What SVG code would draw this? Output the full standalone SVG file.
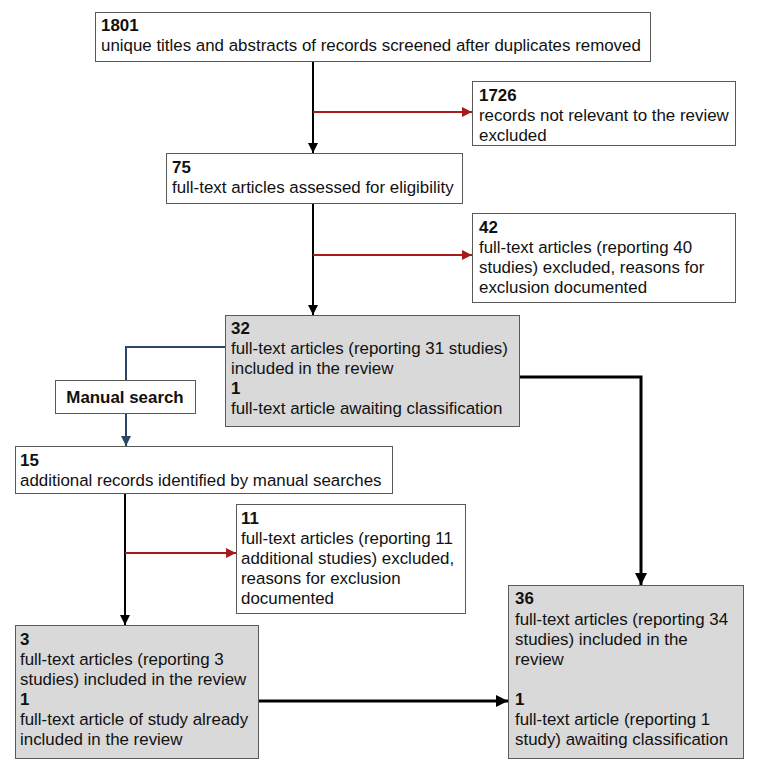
<svg xmlns="http://www.w3.org/2000/svg" width="768" height="769" viewBox="0 0 768 769">
<style>
.box{fill:#fff;stroke:#5a5a5a;stroke-width:1}
.gbox{fill:#d9d9d9;stroke:#5a5a5a;stroke-width:1}
text{font-family:"Liberation Sans",Arial,sans-serif;font-size:16.9px;fill:#111}
.b{font-weight:bold}
.blk{stroke:#000;stroke-width:2;fill:none}
.thk{stroke:#000;stroke-width:3;fill:none}
.red{stroke:#a61c1c;stroke-width:2;fill:none}
.blu{stroke:#2b4763;stroke-width:2;fill:none}
</style>
<defs>
<marker id="ab" viewBox="0 0 10 10" refX="10" refY="5" markerWidth="5" markerHeight="5" orient="auto" markerUnits="strokeWidth"><path d="M0,0L10,5L0,10z" fill="#000"/></marker>
<marker id="ak" viewBox="0 0 10 10" refX="10" refY="5" markerWidth="4" markerHeight="4" orient="auto" markerUnits="strokeWidth"><path d="M0,0L10,5L0,10z" fill="#000"/></marker>
<marker id="ar" viewBox="0 0 10 10" refX="10" refY="5" markerWidth="5" markerHeight="5" orient="auto" markerUnits="strokeWidth"><path d="M0,0L10,5L0,10z" fill="#a61c1c"/></marker>
<marker id="au" viewBox="0 0 10 10" refX="10" refY="5" markerWidth="5" markerHeight="5" orient="auto" markerUnits="strokeWidth"><path d="M0,0L10,5L0,10z" fill="#2b4763"/></marker>
</defs>
<g id="connectors">
<path class="blk" d="M313,61V153" marker-end="url(#ab)"/>
<path class="red" d="M313,112H472" marker-end="url(#ar)"/>
<path class="blk" d="M313,203V315" marker-end="url(#ab)"/>
<path class="red" d="M313,255H472" marker-end="url(#ar)"/>
<path class="blu" d="M225,347H126V446" marker-end="url(#au)"/>
<path class="blk" d="M125,493V625" marker-end="url(#ab)"/>
<path class="red" d="M125,553H236" marker-end="url(#ar)"/>
<path class="thk" d="M520,377H641V585" marker-end="url(#ak)"/>
<path class="thk" d="M258,701H508" marker-end="url(#ak)"/>
</g>
<g id="n1801"><rect class="box" x="95.5" y="12.5" width="555" height="49"/><text x="101" y="31" class="b">1801</text><text x="101" y="51">unique titles and abstracts of records screened after duplicates removed</text></g>
<g id="n1726"><rect class="box" x="472.5" y="81.5" width="263" height="64"/><text x="479" y="101" class="b">1726</text><text x="479" y="121">records not relevant to the review</text><text x="479" y="141">excluded</text></g>
<g id="n75"><rect class="box" x="166.5" y="153.5" width="296" height="50"/><text x="172" y="173" class="b">75</text><text x="172" y="193">full-text articles assessed for eligibility</text></g>
<g id="n42"><rect class="box" x="472.5" y="213.5" width="263" height="89"/><text x="479" y="233" class="b">42</text><text x="479" y="253">full-text articles (reporting 40</text><text x="479" y="273">studies) excluded, reasons for</text><text x="479" y="293">exclusion documented</text></g>
<g id="n32"><rect class="gbox" x="225.5" y="315.5" width="294" height="111"/><text x="231" y="334" class="b">32</text><text x="231" y="354">full-text articles (reporting 31 studies)</text><text x="231" y="374">included in the review</text><text x="231" y="394" class="b">1</text><text x="231" y="414">full-text article awaiting classification</text></g>
<g id="manual"><rect class="box" x="55.5" y="380.5" width="140" height="33"/><text x="125" y="403" class="b" text-anchor="middle">Manual search</text></g>
<g id="n15"><rect class="box" x="15.5" y="446.5" width="377" height="47"/><text x="20" y="466" class="b">15</text><text x="20" y="486">additional records identified by manual searches</text></g>
<g id="n11"><rect class="box" x="236.5" y="504.5" width="229" height="109"/><text x="241" y="524" class="b">11</text><text x="241" y="544">full-text articles (reporting 11</text><text x="241" y="564">additional studies) excluded,</text><text x="241" y="584">reasons for exclusion</text><text x="241" y="604">documented</text></g>
<g id="n3"><rect class="gbox" x="15.5" y="625.5" width="243" height="133"/><text x="20" y="645" class="b">3</text><text x="20" y="665">full-text articles (reporting 3</text><text x="20" y="685">studies) included in the review</text><text x="20" y="705" class="b">1</text><text x="20" y="725">full-text article of study already</text><text x="20" y="745">included in the review</text></g>
<g id="n36"><rect class="gbox" x="508.5" y="585.5" width="235" height="173"/><text x="515" y="604" class="b">36</text><text x="515" y="625">full-text articles (reporting 34</text><text x="515" y="645">studies) included in the</text><text x="515" y="665">review</text><text x="515" y="705" class="b">1</text><text x="515" y="725">full-text article (reporting 1</text><text x="515" y="745">study) awaiting classification</text></g>
</svg>
